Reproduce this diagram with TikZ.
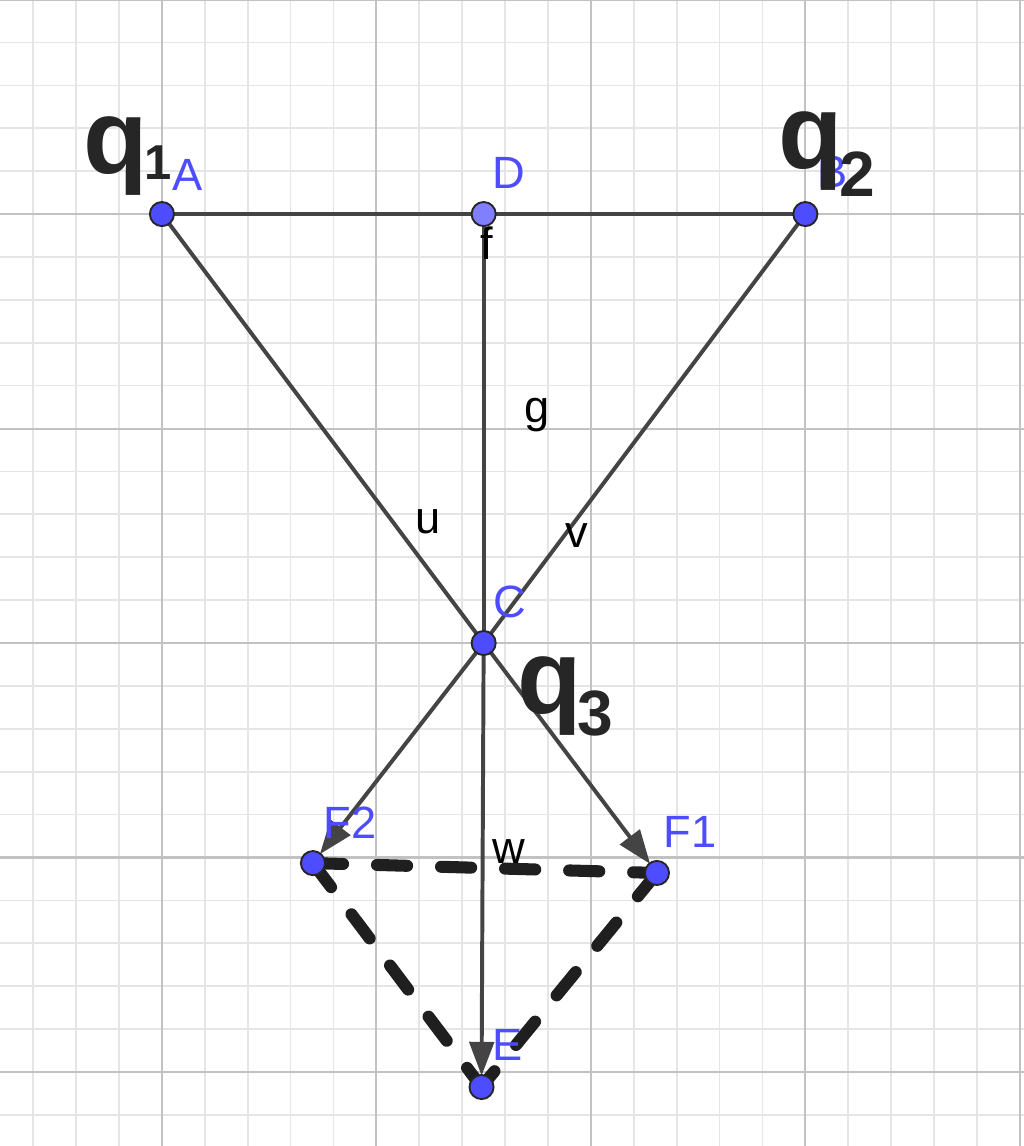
\documentclass[tikz,border=0pt]{standalone}
\usepackage{fontspec}
\setmainfont{Liberation Sans}
\usetikzlibrary{arrows.meta}
\definecolor{ggblue}{HTML}{4D4DFF}
\definecolor{ggpale}{HTML}{7F7FFF}
\definecolor{ggline}{HTML}{444444}

\begin{document}
\begin{tikzpicture}[x=2cm,y=2cm,
  minorgrid/.style={draw=black!10,line width=0.45pt},
  majorgrid/.style={draw=black!24,line width=0.55pt},
  seg/.style={draw=ggline,line width=1.05pt},
  vec/.style={seg,-{Triangle[length=9pt,width=6.5pt]},shorten >=3pt},
  hand/.style={draw=black!88,line width=3.2pt,line cap=round,dash pattern=on 8pt off 9pt},
  dot/.style={circle,fill=ggblue,draw=black!85,line width=0.5pt,inner sep=0pt,minimum size=6.4pt},
  ptlabel/.style={text=ggblue,font=\fontsize{12}{14}\selectfont},
  lnlabel/.style={text=black,font=\fontsize{12}{14}\selectfont},
  qlabel/.style={text=black!85,inner sep=0pt,font=\fontsize{28}{30}\selectfont\bfseries}]
  \useasboundingbox (-0.755,-4.345) rectangle (4.019,0.998);
  \clip (-0.755,-4.345) rectangle (4.019,0.998);
  \draw[minorgrid] (-0.8,-4.4) grid[step=0.2] (4.1,1.1);
  \draw[majorgrid] (-0.8,-4.4) grid[step=1] (4.1,1.1);

  \coordinate (A) at (0,0);
  \coordinate (D) at (1.5,0);
  \coordinate (B) at (3,0);
  \coordinate (C) at (1.5,-2);
  \coordinate (F2) at (0.704,-3.026);
  \coordinate (F1) at (2.308,-3.072);
  \coordinate (E) at (1.49,-4.07);

  \draw[hand] (F2) -- (F1);
  \draw[hand] (F2) -- (E);
  \draw[hand] (F1) -- (E);

  \draw[seg] (A) -- (B);
  \draw[seg] (D) -- (C);
  \draw[seg] (A) -- (C);
  \draw[seg] (B) -- (C);
  \draw[vec] (C) -- (F1);
  \draw[vec] (C) -- (F2);
  \draw[vec] (C) -- (E);

  \node[dot] (pA) at (A) {};
  \node[dot,fill=ggpale] (pD) at (D) {};
  \node[dot] (pB) at (B) {};
  \node[dot] (pC) at (C) {};
  \node[dot] (pF2) at (F2) {};
  \node[dot] (pF1) at (F1) {};
  \node[dot] (pE) at (E) {};

  \node[ptlabel] (lA) at (0.121,0.182) {A};
  \node[ptlabel] (lD) at (1.618,0.191) {D};
  \node[ptlabel] (lB) at (3.128,0.196) {B};
  \node[ptlabel] (lC) at (1.622,-1.809) {C};
  \node[ptlabel] (lF2) at (0.876,-2.839) {F2};
  \node[ptlabel] (lF1) at (2.461,-2.881) {F1};
  \node[ptlabel] (lE) at (1.613,-3.874) {E};

  \node[lnlabel] (lf) at (1.515,-0.135) {f};
  \node[lnlabel] (lg) at (1.748,-0.937) {g};
  \node[lnlabel] (lu) at (1.240,-1.436) {u};
  \node[lnlabel] (lv) at (1.935,-1.497) {v};
  \node[lnlabel] (lw) at (1.618,-2.970) {w};

  \node[qlabel] (q1) at (-0.16,0.27) {q\kern-1pt\raisebox{-0.1ex}{\fontsize{13}{13}\selectfont 1}};
  \node[qlabel] (q2) at (3.1,0.28) {q\kern-1pt\raisebox{-0.5ex}{\fontsize{17}{17}\selectfont 2}};
  \node[qlabel] (q3) at (1.88,-2.25) {q\kern-1pt\raisebox{-0.4ex}{\fontsize{17}{17}\selectfont 3}};
\end{tikzpicture}
\end{document}
